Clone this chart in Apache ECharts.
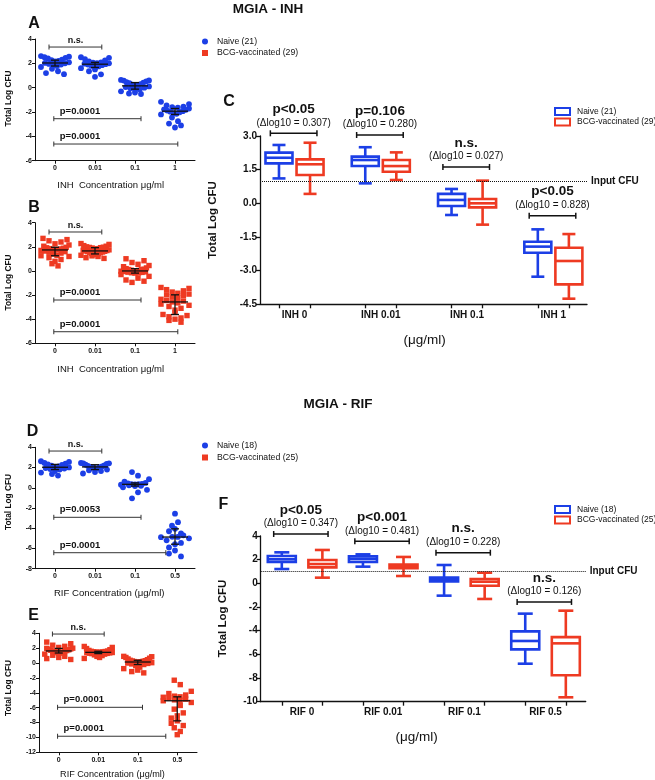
<!DOCTYPE html>
<html><head><meta charset="utf-8">
<script src="https://cdn.jsdelivr.net/npm/echarts@6/dist/echarts.min.js"></script>
<style>html,body{margin:0;padding:0;background:#fff}#c{width:655px;height:780px}</style>
</head><body><div id="c"></div>
<script>
// ================= DATA =================
const inhCats = ['0', '0.01', '0.1', '1'];
const rifCats = ['0', '0.01', '0.1', '0.5'];
const inhBoxCats = ['INH 0', 'INH 0.01', 'INH 0.1', 'INH 1'];
const rifBoxCats = ['RIF 0', 'RIF 0.01', 'RIF 0.1', 'RIF 0.5'];

const inhNaiveName = 'Naive (21)';
const inhBcgName = 'BCG-vaccinated (29)';
const rifNaiveName = 'Naive (18)';
const rifBcgName = 'BCG-vaccinated (25)';

// Panel A: INH, naive mice (21 per concentration), Total Log CFU
const inhNaivePts0 = [2.60,2.55,2.50,2.45,2.40,2.30,2.26,2.20,2.15,2.08,2.03,2.00,1.95,1.90,1.85,1.78,1.70,1.55,1.35,1.20,1.11];
const inhNaivePts1 = [2.50,2.45,2.35,2.25,2.15,2.08,2.05,2.02,2.00,1.97,1.93,1.90,1.85,1.80,1.75,1.66,1.60,1.50,1.35,1.10,0.89];
const inhNaivePts2 = [0.64,0.60,0.58,0.52,0.45,0.42,0.38,0.30,0.25,0.20,0.15,0.10,0.05,0.00,-0.05,-0.12,-0.20,-0.30,-0.40,-0.48,-0.52];
const inhNaivePts3 = [-1.16,-1.35,-1.45,-1.55,-1.60,-1.65,-1.71,-1.78,-1.82,-1.88,-1.93,-1.97,-2.02,-2.10,-2.15,-2.20,-2.45,-2.75,-2.95,-3.10,-3.27];

// Panel B: INH, BCG-vaccinated (29 per concentration)
const inhBcgPts0 = [2.70,2.60,2.50,2.40,2.25,2.15,2.05,1.96,1.92,1.88,1.85,1.82,1.80,1.77,1.74,1.70,1.65,1.60,1.55,1.48,1.40,1.30,1.26,1.20,1.10,0.95,0.80,0.60,0.42];
const inhBcgPts1 = [2.27,2.20,2.10,2.05,2.00,1.97,1.95,1.93,1.90,1.85,1.80,1.75,1.72,1.69,1.66,1.63,1.60,1.57,1.55,1.50,1.45,1.43,1.41,1.35,1.30,1.25,1.20,1.10,1.04];
const inhBcgPts2 = [1.01,0.85,0.70,0.55,0.45,0.35,0.25,0.19,0.15,0.12,0.10,0.06,0.04,0.02,0.00,-0.02,-0.05,-0.08,-0.10,-0.12,-0.15,-0.17,-0.18,-0.30,-0.45,-0.60,-0.75,-0.85,-0.95];
const inhBcgPts3 = [-1.37,-1.45,-1.55,-1.65,-1.75,-1.85,-1.92,-1.98,-2.05,-2.15,-2.25,-2.35,-2.45,-2.50,-2.57,-2.65,-2.75,-2.85,-2.95,-3.10,-3.25,-3.45,-3.61,-3.70,-3.80,-3.90,-4.00,-4.10,-4.25];

// Panel D: RIF, naive (18 per concentration)
const rifNaivePts0 = [2.62,2.55,2.45,2.38,2.31,2.25,2.18,2.10,2.05,2.01,1.95,1.90,1.85,1.80,1.65,1.50,1.35,1.21];
const rifNaivePts1 = [2.45,2.42,2.40,2.35,2.28,2.20,2.15,2.10,2.07,2.05,2.00,1.95,1.88,1.80,1.72,1.65,1.55,1.41];
const rifNaivePts2 = [1.55,1.20,0.85,0.60,0.48,0.42,0.38,0.36,0.35,0.33,0.30,0.25,0.20,0.17,0.05,-0.20,-0.45,-1.04];
const rifNaivePts3 = [-2.56,-3.40,-3.75,-4.06,-4.30,-4.50,-4.70,-4.85,-4.86,-4.88,-5.00,-5.20,-5.45,-5.58,-5.90,-6.20,-6.50,-6.79];

// Panel E: RIF, BCG-vaccinated (25 per concentration)
const rifBcgPts0 = [2.82,2.60,2.40,2.25,2.10,2.00,1.97,1.90,1.85,1.78,1.72,1.68,1.63,1.58,1.52,1.45,1.40,1.35,1.30,1.20,1.05,0.90,0.75,0.60,0.48];
const rifBcgPts1 = [2.23,2.10,1.95,1.80,1.70,1.62,1.58,1.55,1.52,1.50,1.48,1.46,1.44,1.42,1.40,1.37,1.33,1.30,1.27,1.20,1.10,1.00,0.90,0.75,0.62];
const rifBcgPts2 = [0.90,0.85,0.75,0.65,0.55,0.45,0.37,0.32,0.28,0.24,0.20,0.17,0.14,0.10,0.05,0.00,-0.05,-0.12,-0.20,-0.35,-0.55,-0.75,-0.95,-1.15,-1.32];
const rifBcgPts3 = [-2.31,-2.90,-3.80,-4.10,-4.30,-4.45,-4.54,-4.60,-4.70,-4.85,-4.95,-5.00,-5.07,-5.30,-5.70,-6.20,-6.70,-7.10,-7.40,-7.77,-8.10,-8.40,-8.70,-9.20,-9.63];

// Box plots [min, Q1, median, Q3, max]
const inhNaiveBox = [[1.11,1.78,2.03,2.26,2.60],[0.89,1.66,1.93,2.08,2.50],[-0.52,-0.12,0.15,0.42,0.64],[-3.27,-2.20,-1.93,-1.71,-1.16]];
const inhBcgBox   = [[0.42,1.26,1.74,1.96,2.70],[1.04,1.41,1.66,1.93,2.27],[-0.95,-0.18,0.00,0.19,1.01],[-4.25,-3.61,-2.57,-1.98,-1.37]];
const rifNaiveBox = [[1.21,1.80,2.03,2.31,2.62],[1.41,1.80,2.06,2.28,2.45],[-1.04,0.17,0.34,0.48,1.55],[-6.79,-5.58,-4.87,-4.06,-2.56]];
const rifBcgBox   = [[0.48,1.35,1.63,1.97,2.82],[0.62,1.27,1.44,1.58,2.23],[-1.32,-0.20,0.14,0.37,0.90],[-9.63,-7.77,-5.07,-4.54,-2.31]];

const inputCFU = 1.0;

// Box-plot comparisons
const inhPText = ['p<0.05', 'p=0.106', 'n.s.', 'p<0.05'];
const inhDelta = ['0.307', '0.280', '0.027', '0.828'];
const inhBracketY = [3.12, 3.045, 1.62, -0.55];
const rifPText = ['p<0.05', 'p<0.001', 'n.s.', 'n.s.'];
const rifDelta = ['0.347', '0.481', '0.228', '0.126'];
const rifBracketY = [4.17, 3.55, 2.59, -1.57];

// Scatter comparisons (from, to in category units, y in Log CFU)
const sigA = [{x0:-0.15,x1:1.17,y:3.34,text:'n.s.'},{x0:-0.03,x1:2.15,y:-2.55,text:'p=0.0001'},{x0:-0.03,x1:3.07,y:-4.63,text:'p=0.0001'}];
const sigB = [{x0:-0.15,x1:1.17,y:3.23,text:'n.s.'},{x0:-0.03,x1:2.15,y:-2.41,text:'p=0.0001'},{x0:-0.03,x1:3.07,y:-5.04,text:'p=0.0001'}];
const sigD = [{x0:-0.15,x1:1.17,y:3.63,text:'n.s.'},{x0:-0.03,x1:2.15,y:-2.92,text:'p=0.0053'},{x0:-0.03,x1:2.77,y:-6.42,text:'p=0.0001'}];
const sigE = [{x0:-0.16,x1:1.15,y:3.90,text:'n.s.'},{x0:-0.03,x1:2.12,y:-5.95,text:'p=0.0001'},{x0:-0.03,x1:2.71,y:-9.84,text:'p=0.0001'}];

// ================= STYLE / LAYOUT =================
const FONT = 'Liberation Sans, Arial, Helvetica, sans-serif';
const BLUE = '#1c3fe6', RED = '#ee3a22', INK = '#111';

const grids = [
  {left:35,    top:39,    width:160, height:121.7}, // A
  {left:35,    top:222.7, width:160, height:120.6}, // B
  {left:260,   top:136,   width:327, height:168.3}, // C
  {left:35,    top:447.3, width:160, height:121.4}, // D
  {left:39,    top:633.3, width:158, height:119},   // E
  {left:260.7, top:536,   width:325, height:165.7}  // F
].map(g => Object.assign({outerBoundsMode:'none', containLabel:false}, g));
const yr = [[-6,4,2],[-6,4,2],[-4.5,3,1.5],[-8,4,2],[-12,4,2],[-10,4,2]];

// Row-binned scatter-dot layout (like a column scatter plot): points whose
// pixel heights fall in the same row are spread side by side.
function swarm(vals, ppu, rowH, step, maxHalf) {
  const order = vals.map((v,i)=>i).sort((a,b)=>vals[b]-vals[a]);
  const off = new Array(vals.length).fill(0);
  const rows = [];
  let cur = null;
  order.forEach(i => {
    const y = -vals[i]*ppu;
    if (!cur || y - cur.y0 > rowH) { cur = {y0:y, items:[]}; rows.push(cur); }
    cur.items.push(i);
  });
  rows.forEach((r, ri) => {
    const n = r.items.length;
    let s = step;
    if ((n-1)*s/2 > maxHalf) s = 2*maxHalf/(n-1);
    const xs = r.items.map((i, j) => (j - (n-1)/2)*s);
    const perm = [];
    for (let a = 0, b = n-1; a <= b; a++, b--) { perm.push(a); if (a !== b) perm.push(b); }
    r.items.forEach((i, j) => { off[i] = xs[perm[(j + ri) % n]]; });
  });
  return off;
}

function catX(gi, cats) {
  return {type:'category', gridIndex:gi, data:cats, boundaryGap:true,
    axisLine:{show:true, onZero:false, lineStyle:{color:INK, width:1}},
    axisTick:{show:true, alignWithLabel:true, length:3, lineStyle:{color:INK, width:1}},
    axisLabel:{show:true, color:INK, fontSize:7, fontWeight:'bold', fontFamily:FONT, margin:4},
    splitLine:{show:false}};
}
function valY(gi, fs, lw, tl, dec) {
  const [min,max,interval] = yr[gi];
  return {type:'value', gridIndex:gi, min, max, interval,
    axisLine:{show:true, onZero:false, lineStyle:{color:INK, width:lw}},
    axisTick:{show:true, length:tl, lineStyle:{color:INK, width:lw}},
    axisLabel:{show:true, color:INK, fontSize:fs, fontWeight:'bold', fontFamily:FONT, margin:3,
      formatter: v => dec ? v.toFixed(dec) : String(v)},
    splitLine:{show:false}};
}
function boxX(gi, cats, min, max, off) {
  const centers = cats.map((c,i)=>i+1);
  const ticks = [];
  centers.forEach(c => { ticks.push(c-off, c+off); });
  return {type:'value', gridIndex:gi, min, max,
    axisLine:{show:true, onZero:false, lineStyle:{color:INK, width:1.3}},
    axisTick:{show:true, customValues:ticks, length:4, lineStyle:{color:INK, width:1.3}},
    axisLabel:{show:true, customValues:centers, formatter: v => cats[Math.round(v)-1] || '',
      color:INK, fontSize:10, fontWeight:'bold', fontFamily:FONT, margin:6},
    splitLine:{show:false}};
}

function scatterSeries(name, groups, gi, color, shape) {
  const g = grids[gi];
  const ppu = g.height/(yr[gi][1]-yr[gi][0]);
  const data = [];
  groups.forEach((vals, k) => {
    const offs = swarm(vals, ppu, 6, 6, 14);
    vals.forEach((v, j) => data.push([k, v, offs[j]]));
  });
  return {type:'custom', name, xAxisIndex:gi, yAxisIndex:gi, clip:false, silent:true,
    itemStyle:{color}, encode:{x:0, y:1}, data,
    renderItem(params, api) {
      const p = api.coord([api.value(0), api.value(1)]);
      const x = p[0] + api.value(2), y = p[1];
      if (shape === 'circle') return {type:'circle', shape:{cx:x, cy:y, r:2.9}, style:{fill:color}};
      return {type:'rect', shape:{x:x-2.7, y:y-2.7, width:5.4, height:5.4}, style:{fill:color}};
    }};
}
function errSeries(stats, gi) {
  return {type:'custom', xAxisIndex:gi, yAxisIndex:gi, clip:false, silent:true, z:3,
    data: stats.map((s,k)=>[k, s[1], s[2], s[3]]), encode:{x:0, y:[1,2,3]},
    renderItem(params, api) {
      const k = api.value(0);
      const q1 = api.coord([k, api.value(1)]), md = api.coord([k, api.value(2)]), q3 = api.coord([k, api.value(3)]);
      const x = md[0], st = {stroke:INK, lineWidth:1.3};
      return {type:'group', children:[
        {type:'line', shape:{x1:x-13, y1:md[1], x2:x+13, y2:md[1]}, style:st},
        {type:'line', shape:{x1:x, y1:q1[1], x2:x, y2:q3[1]}, style:st},
        {type:'line', shape:{x1:x-4, y1:q1[1], x2:x+4, y2:q1[1]}, style:st},
        {type:'line', shape:{x1:x-4, y1:q3[1], x2:x+4, y2:q3[1]}, style:st}
      ]};
    }};
}
function sigSeries(sig, gi) {
  return {type:'custom', xAxisIndex:gi, yAxisIndex:gi, clip:false, silent:true, z:4,
    data: sig.map(s=>[s.x0, s.y, s.x1]), encode:{x:0, y:1},
    renderItem(params, api) {
      const s = sig[params.dataIndex];
      const c0 = api.coord([0, s.y]);
      const band = api.size([1, 0])[0];
      const xa = c0[0] + s.x0*band, xb = c0[0] + s.x1*band, y = c0[1];
      const st = {stroke:'#333', lineWidth:1};
      const centered = s.text === 'n.s.';
      return {type:'group', children:[
        {type:'line', shape:{x1:xa, y1:y, x2:xb, y2:y}, style:st},
        {type:'line', shape:{x1:xa, y1:y-2.5, x2:xa, y2:y+2.5}, style:st},
        {type:'line', shape:{x1:xb, y1:y-2.5, x2:xb, y2:y+2.5}, style:st},
        {type:'text', x: centered ? (xa+xb)/2 : xa+6, y: centered ? y-6.5 : y-7.5,
          style:{text:s.text, fill:INK, fontSize: centered ? 9 : 9.5, fontWeight:'bold', fontFamily:FONT,
            align: centered ? 'center' : 'left', verticalAlign:'middle'}}
      ]};
    }};
}
function boxSeries(name, stats, gi, off, color, bw, cw, withInput) {
  const s = {type:'custom', name, xAxisIndex:gi, yAxisIndex:gi, clip:false, silent:true,
    itemStyle:{color}, encode:{x:0, y:[1,2,3,4,5]},
    data: stats.map((v,k)=>[k+1].concat(v)),
    renderItem(params, api) {
      const x = api.value(0) + off;
      const P = i => api.coord([x, api.value(i)]);
      const mn = P(1), q1 = P(2), md = P(3), q3 = P(4), mx = P(5);
      const cx = md[0], lw = 2.6, st = {stroke:color, lineWidth:lw, fill:null};
      return {type:'group', children:[
        {type:'line', shape:{x1:cx, y1:mx[1], x2:cx, y2:q3[1]}, style:st},
        {type:'line', shape:{x1:cx, y1:q1[1], x2:cx, y2:mn[1]}, style:st},
        {type:'line', shape:{x1:cx-cw/2, y1:mx[1], x2:cx+cw/2, y2:mx[1]}, style:st},
        {type:'line', shape:{x1:cx-cw/2, y1:mn[1], x2:cx+cw/2, y2:mn[1]}, style:st},
        {type:'rect', shape:{x:cx-bw/2, y:q3[1], width:bw, height:q1[1]-q3[1]}, style:{stroke:color, lineWidth:lw, fill:'#fff'}},
        {type:'line', shape:{x1:cx-bw/2, y1:md[1], x2:cx+bw/2, y2:md[1]}, style:st}
      ]};
    }};
  if (withInput) {
    s.markLine = {silent:true, symbol:['none','none'], animation:false,
      lineStyle:{type:'dotted', color:INK, width:1},
      label:{show:true, position:'end', formatter:'Input CFU', color:INK, fontSize:10, fontWeight:'bold', fontFamily:FONT, distance:4},
      data:[{yAxis: inputCFU}]};
  }
  return s;
}
function boxAnnot(gi, pT, dT, ys, L, R) {
  return {type:'custom', xAxisIndex:gi, yAxisIndex:gi, clip:false, silent:true, z:4,
    data: ys.map((y,k)=>[k+1, y]), encode:{x:0, y:1},
    renderItem(params, api) {
      const i = params.dataIndex, k = api.value(0), y0 = api.value(1);
      const a = api.coord([k+L, y0]), b = api.coord([k+R, y0]);
      const cx = (a[0]+b[0])/2, y = a[1], st = {stroke:INK, lineWidth:1.5};
      return {type:'group', children:[
        {type:'line', shape:{x1:a[0], y1:y, x2:b[0], y2:y}, style:st},
        {type:'line', shape:{x1:a[0], y1:y-3, x2:a[0], y2:y+3}, style:st},
        {type:'line', shape:{x1:b[0], y1:y-3, x2:b[0], y2:y+3}, style:st},
        {type:'text', x:cx, y:y-24, style:{text:pT[i], fill:INK, fontSize:13.5, fontWeight:'bold', fontFamily:FONT, align:'center', verticalAlign:'middle'}},
        {type:'text', x:cx, y:y-10.5, style:{text:'(\u0394log10 = ' + dT[i] + ')', fill:INK, fontSize:10, fontFamily:FONT, align:'center', verticalAlign:'middle'}}
      ]};
    }};
}
function T(text, x, y, size, bold, rot, align) {
  return {type:'text', x, y, rotation: rot || 0, silent:true,
    style:{text, fill:INK, fontSize:size, fontWeight: bold ? 'bold' : 'normal', fontFamily:FONT,
      align: align || 'center', verticalAlign:'middle'}};
}
function legendAt(left, top, items, iw, ih, gap, fs, pad) {
  return {show:true, orient:'vertical', left, top, itemWidth:iw, itemHeight:ih, itemGap:gap,
    selectedMode:false, padding:0,
    textStyle:{fontSize:fs, color:INK, fontFamily:FONT, padding:[0,0,0,pad]}, data:items};
}

const R90 = Math.PI/2;
const option = {
  animation:false,
  backgroundColor:'#fff',
  textStyle:{fontFamily:FONT},
  grid: grids,
  xAxis: [catX(0, inhCats), catX(1, inhCats), boxX(2, inhBoxCats, 0.6, 4.39, 0.18),
          catX(3, rifCats), catX(4, rifCats), boxX(5, rifBoxCats, 0.49, 4.495, 0.25)],
  yAxis: [valY(0, 7, 1, 3, 0), valY(1, 7, 1, 3, 0), valY(2, 10, 1.3, 4, 1),
          valY(3, 7, 1, 3, 0), valY(4, 7, 1, 3, 0), valY(5, 10, 1.3, 4, 0)],
  legend: [
    legendAt(202, 37, [{name:inhNaiveName, icon:'circle'}, {name:inhBcgName, icon:'rect'}], 6, 6, 2.5, 8.7, 4),
    legendAt(554, 107, [{name:inhNaiveName, icon:'rect', itemStyle:{color:'#fff', borderColor:BLUE, borderWidth:2}},
                        {name:inhBcgName, icon:'rect', itemStyle:{color:'#fff', borderColor:RED, borderWidth:2}}], 15, 7, 1.5, 8.5, 2),
    legendAt(202, 441, [{name:rifNaiveName, icon:'circle'}, {name:rifBcgName, icon:'rect'}], 6, 6, 3, 8.7, 4),
    legendAt(554, 505, [{name:rifNaiveName, icon:'rect', itemStyle:{color:'#fff', borderColor:BLUE, borderWidth:2}},
                        {name:rifBcgName, icon:'rect', itemStyle:{color:'#fff', borderColor:RED, borderWidth:2}}], 15, 7, 1.5, 8.5, 2)
  ],
  graphic: {elements: [
    T('MGIA - INH', 268, 9.5, 13.5, true),
    T('MGIA - RIF', 338, 404, 13.5, true),
    T('A', 34, 24, 16, true), T('B', 34, 207.5, 16, true), T('C', 229, 101.5, 16, true),
    T('D', 32.5, 431.5, 16, true), T('E', 33.5, 616, 16, true), T('F', 223.5, 505, 16, true),
    T('Total Log CFU', 9.2, 98.5, 8.3, true, R90),
    T('Total Log CFU', 9.2, 282.5, 8.3, true, R90),
    T('Total Log CFU', 213, 220, 11.5, true, R90),
    T('Total Log CFU', 8.8, 502, 8.3, true, R90),
    T('Total Log CFU', 9, 688, 8.3, true, R90),
    T('Total Log CFU', 223, 618.5, 11.5, true, R90),
    T('INH  Concentration \u03bcg/ml', 110.7, 185, 9.5, false),
    T('INH  Concentration \u03bcg/ml', 110.7, 369, 9.5, false),
    T('RIF Concentration (\u03bcg/ml)', 109.2, 593.7, 9.6, false),
    T('RIF Concentration (\u03bcg/ml)', 112.5, 774, 9.1, false),
    T('(\u03bcg/ml)', 424.7, 340, 13.5, false),
    T('(\u03bcg/ml)', 416.7, 737.7, 13.5, false)
  ]},
  series: [
    scatterSeries(inhNaiveName, [inhNaivePts0, inhNaivePts1, inhNaivePts2, inhNaivePts3], 0, BLUE, 'circle'),
    errSeries(inhNaiveBox, 0), sigSeries(sigA, 0),
    scatterSeries(inhBcgName, [inhBcgPts0, inhBcgPts1, inhBcgPts2, inhBcgPts3], 1, RED, 'rect'),
    errSeries(inhBcgBox, 1), sigSeries(sigB, 1),
    scatterSeries(rifNaiveName, [rifNaivePts0, rifNaivePts1, rifNaivePts2, rifNaivePts3], 3, BLUE, 'circle'),
    errSeries(rifNaiveBox, 3), sigSeries(sigD, 3),
    scatterSeries(rifBcgName, [rifBcgPts0, rifBcgPts1, rifBcgPts2, rifBcgPts3], 4, RED, 'rect'),
    errSeries(rifBcgBox, 4), sigSeries(sigE, 4),
    boxSeries(inhNaiveName, inhNaiveBox, 2, -0.18, BLUE, 27, 13, true),
    boxSeries(inhBcgName, inhBcgBox, 2, 0.18, RED, 27, 13, false),
    boxAnnot(2, inhPText, inhDelta, inhBracketY, -0.28, 0.26),
    boxSeries(rifNaiveName, rifNaiveBox, 5, -0.25, BLUE, 28, 15, true),
    boxSeries(rifBcgName, rifBcgBox, 5, 0.25, RED, 28, 15, false),
    boxAnnot(5, rifPText, rifDelta, rifBracketY, -0.35, 0.32)
  ]
};
const chart = echarts.init(document.getElementById('c'), null, {renderer:'canvas'});
chart.setOption(option);
</script>
</body></html>
